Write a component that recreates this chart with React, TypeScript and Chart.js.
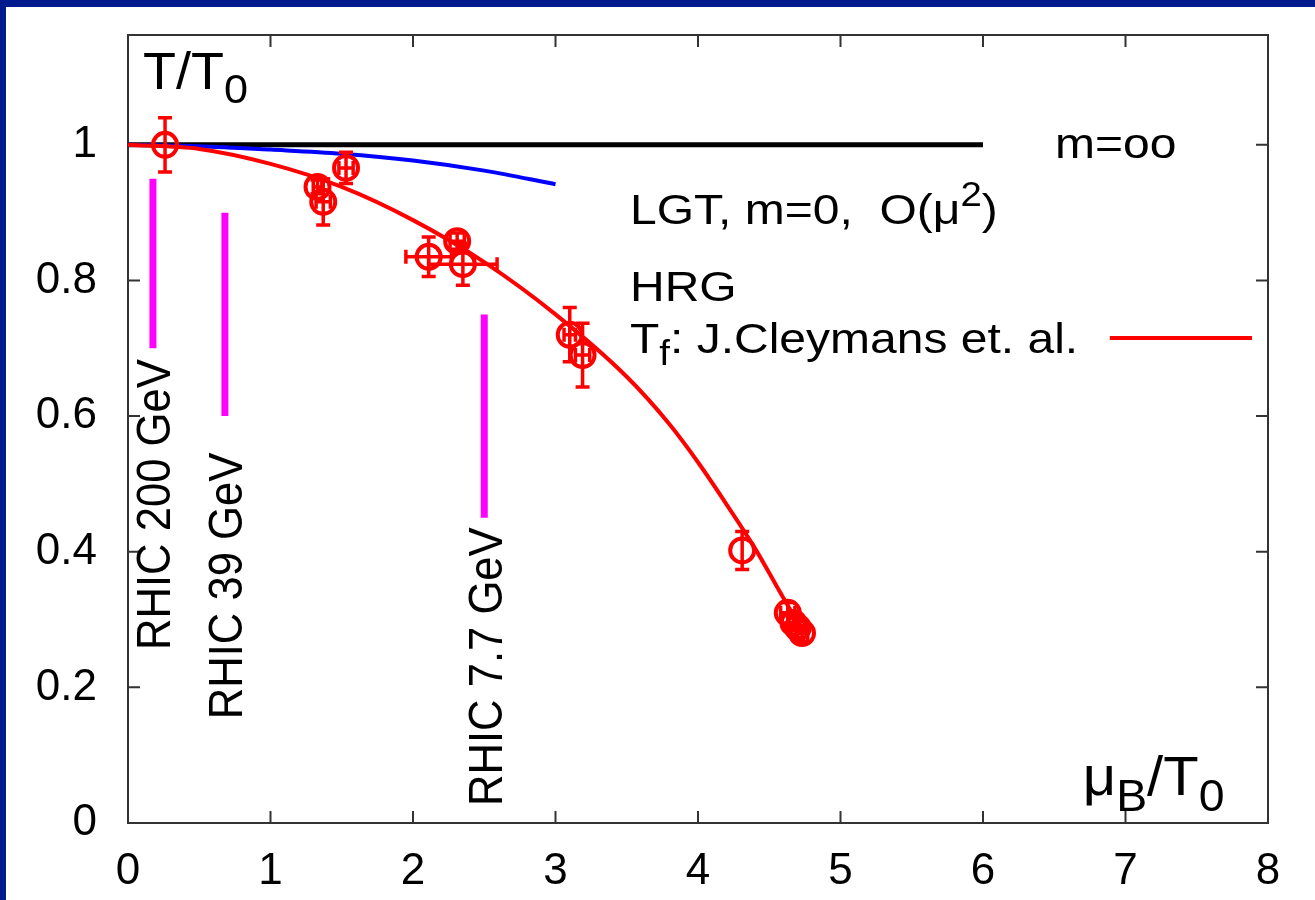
import React, { useEffect, useRef } from 'react';
import { Chart, registerables } from 'chart.js';

Chart.register(...registerables);

const FONT = '"Liberation Sans", Arial, Helvetica, sans-serif';

// Axis ticks
const xTicks = [0, 1, 2, 3, 4, 5, 6, 7, 8];
const xTickLabels = ['0', '1', '2', '3', '4', '5', '6', '7', '8'];
const yTicks = [0, 0.2, 0.4, 0.6, 0.8, 1];
const yTickLabels = ['0', '0.2', '0.4', '0.6', '0.8', '1'];
const X_MIN = 0;
const X_MAX = 8;
const Y_MIN = 0;
const Y_MAX = 1.162;

// Freeze-out data points (mu_B/T0, T/T0) with errors
const dataX = [0.26, 1.33, 1.37, 1.53, 2.11, 2.31, 2.35, 3.10, 3.19, 4.31, 4.63, 4.67, 4.70, 4.73];
const dataY = [1.0, 0.938, 0.916, 0.966, 0.835, 0.858, 0.824, 0.72, 0.69, 0.402, 0.31, 0.295, 0.288, 0.28];
const dataXErr = [0, 0.03, 0.05, 0.05, 0.16, 0.05, 0.24, 0.04, 0.05, 0, 0.05, 0.04, 0.05, 0.04];
const dataYErr = [0.04, 0.01, 0.034, 0.023, 0.029, 0.012, 0.031, 0.04, 0.047, 0.028, 0.015, 0.012, 0.015, 0.012];

// HRG freeze-out curve (J. Cleymans et al.)
const hrgX = [0, 0.5, 1.0, 1.5, 2.0, 2.5, 3.0, 3.5, 3.8, 4.0, 4.2, 4.4, 4.55, 4.7];
const hrgY = [1.0, 0.994, 0.972, 0.938, 0.889, 0.827, 0.75, 0.658, 0.588, 0.532, 0.47, 0.405, 0.35, 0.295];

// LGT, m=0, O(mu^2)
const lgtX = [0, 0.5, 1.0, 1.5, 2.0, 2.5, 3.0];
const lgtY = [1.0, 0.998, 0.993, 0.987, 0.977, 0.962, 0.942];

// m = infinity
const infX = [0, 6];
const infY = [1, 1];

// RHIC energy markers
const rhicX = [0.175, 0.68, 2.5];
const rhicTop = [0.95, 0.9, 0.75];
const rhicBottom = [0.7, 0.6, 0.45];
const rhicLabels = ['RHIC 200 GeV', 'RHIC 39 GeV', 'RHIC 7.7 GeV'];
const rhicLabelAnchorX = [0.295, 0.8, 2.625];
const rhicLabelAnchorY = [0.255, 0.153, 0.025];

type Seg = { t: string; sub?: boolean; sup?: boolean };
type Note = { segs: Seg[]; x: number; y: number; size: number; sy: number };

const notes: Note[] = [
  { segs: [{ t: 'T/T' }, { t: '0', sub: true }], x: 0.105, y: 1.083, size: 54, sy: 0.95 },
  { segs: [{ t: 'μ' }, { t: 'B', sub: true }, { t: '/T' }, { t: '0', sub: true }], x: 6.7, y: 0.041, size: 58, sy: 0.95 },
  { segs: [{ t: 'm=oo' }], x: 6.505, y: 0.981, size: 48, sy: 0.9 },
  { segs: [{ t: 'LGT, m=0,  O(μ' }, { t: '2', sup: true }, { t: ')' }], x: 3.523, y: 0.8835, size: 48, sy: 0.9 },
  { segs: [{ t: 'HRG' }], x: 3.523, y: 0.77, size: 48, sy: 0.9 },
  { segs: [{ t: 'T' }, { t: 'f', sub: true }, { t: ': J.Cleymans et. al.' }], x: 3.523, y: 0.693, size: 48, sy: 0.9 },
];
const legendLineX = [6.89, 7.888];
const legendLineY = 0.7153;

function drawRich(ctx: CanvasRenderingContext2D, segs: Seg[], x: number, y: number, size: number, sy: number) {
  ctx.save();
  ctx.translate(x, y);
  ctx.scale(1, sy);
  ctx.fillStyle = '#000';
  ctx.textBaseline = 'alphabetic';
  ctx.textAlign = 'left';
  let cx = 0;
  for (const s of segs) {
    const fs = s.sub || s.sup ? size * 0.8 : size;
    ctx.font = `${fs}px ${FONT}`;
    const dy = s.sub ? size * 0.28 : s.sup ? -size * 0.42 : 0;
    ctx.fillText(s.t, cx, dy);
    cx += ctx.measureText(s.t).width;
  }
  ctx.restore();
}

const framePlugin = {
  id: 'frame',
  beforeDatasetsDraw(chart: any) {
    const { ctx, chartArea: a, scales } = chart;
    const xs = scales.x;
    const ys = scales.y;
    ctx.save();
    ctx.strokeStyle = '#333';
    ctx.lineWidth = 2;
    ctx.strokeRect(a.left, a.top, a.right - a.left, a.bottom - a.top);
    const tl = 12;
    ctx.beginPath();
    for (const v of xTicks) {
      if (v === X_MIN || v === X_MAX) continue;
      const px = xs.getPixelForValue(v);
      ctx.moveTo(px, a.bottom);
      ctx.lineTo(px, a.bottom - tl);
      ctx.moveTo(px, a.top);
      ctx.lineTo(px, a.top + tl);
    }
    for (const v of yTicks) {
      if (v === Y_MIN) continue;
      const py = ys.getPixelForValue(v);
      ctx.moveTo(a.left, py);
      ctx.lineTo(a.left + tl, py);
      ctx.moveTo(a.right, py);
      ctx.lineTo(a.right - tl, py);
    }
    ctx.stroke();
    ctx.restore();
  },
  afterDatasetsDraw(chart: any) {
    const { ctx, scales } = chart;
    const xs = scales.x;
    const ys = scales.y;
    ctx.save();
    // error bars
    ctx.strokeStyle = '#ff0000';
    ctx.lineWidth = 3.5;
    const cap = 7;
    for (let i = 0; i < dataX.length; i++) {
      const px = xs.getPixelForValue(dataX[i]);
      const py = ys.getPixelForValue(dataY[i]);
      ctx.beginPath();
      if (dataYErr[i] > 0) {
        const y1 = ys.getPixelForValue(dataY[i] + dataYErr[i]);
        const y2 = ys.getPixelForValue(dataY[i] - dataYErr[i]);
        ctx.moveTo(px, y1);
        ctx.lineTo(px, y2);
        ctx.moveTo(px - cap, y1);
        ctx.lineTo(px + cap, y1);
        ctx.moveTo(px - cap, y2);
        ctx.lineTo(px + cap, y2);
      }
      if (dataXErr[i] > 0) {
        const x1 = xs.getPixelForValue(dataX[i] - dataXErr[i]);
        const x2 = xs.getPixelForValue(dataX[i] + dataXErr[i]);
        ctx.moveTo(x1, py);
        ctx.lineTo(x2, py);
        ctx.moveTo(x1, py - cap);
        ctx.lineTo(x1, py + cap);
        ctx.moveTo(x2, py - cap);
        ctx.lineTo(x2, py + cap);
      }
      ctx.stroke();
    }
    // legend key line
    ctx.strokeStyle = '#ff0000';
    ctx.lineWidth = 4;
    ctx.beginPath();
    ctx.moveTo(xs.getPixelForValue(legendLineX[0]), ys.getPixelForValue(legendLineY));
    ctx.lineTo(xs.getPixelForValue(legendLineX[1]), ys.getPixelForValue(legendLineY));
    ctx.stroke();
    // text notes
    for (const n of notes) {
      drawRich(ctx, n.segs, xs.getPixelForValue(n.x), ys.getPixelForValue(n.y), n.size, n.sy);
    }
    // rotated RHIC labels
    for (let i = 0; i < rhicLabels.length; i++) {
      ctx.save();
      ctx.translate(xs.getPixelForValue(rhicLabelAnchorX[i]), ys.getPixelForValue(rhicLabelAnchorY[i]));
      ctx.rotate(-Math.PI / 2);
      ctx.scale(0.89, 1);
      ctx.font = `49px ${FONT}`;
      ctx.fillStyle = '#000';
      ctx.textAlign = 'left';
      ctx.textBaseline = 'alphabetic';
      ctx.fillText(rhicLabels[i], 0, 0);
      ctx.restore();
    }
    ctx.restore();
  },
};

export default function App() {
  const ref = useRef<HTMLCanvasElement>(null);
  useEffect(() => {
    const lineDs = (xsArr: number[], ysArr: number[], color: string, width: number, order: number) => ({
      type: 'line' as const,
      data: xsArr.map((x, i) => ({ x, y: ysArr[i] })),
      borderColor: color,
      backgroundColor: color,
      borderWidth: width,
      pointRadius: 0,
      showLine: true,
      fill: false,
      cubicInterpolationMode: 'monotone' as const,
      order,
    });
    const datasets: any[] = [
      {
        type: 'scatter',
        data: dataX.map((x, i) => ({ x, y: dataY[i] })),
        pointStyle: 'circle',
        pointRadius: 12,
        pointBorderWidth: 4,
        pointBorderColor: '#ff0000',
        pointBackgroundColor: 'rgba(0,0,0,0)',
        showLine: false,
        order: 0,
      },
      lineDs(hrgX, hrgY, '#ff0000', 4, 1),
      lineDs(lgtX, lgtY, '#0000ff', 4, 2),
      lineDs(infX, infY, '#000000', 5, 3),
    ];
    rhicX.forEach((x, i) => {
      datasets.push({
        type: 'line',
        data: [{ x, y: rhicBottom[i] }, { x, y: rhicTop[i] }],
        borderColor: '#ff00ff',
        borderWidth: 7,
        pointRadius: 0,
        showLine: true,
        fill: false,
        borderCapStyle: 'butt',
        order: 4 + i,
      });
    });
    const chart = new Chart(ref.current as HTMLCanvasElement, {
      type: 'scatter',
      data: { datasets },
      options: {
        animation: false,
        responsive: false,
        maintainAspectRatio: false,
        devicePixelRatio: 1,
        layout: { padding: { top: 28, right: 47, left: 0, bottom: 0 } },
        plugins: { legend: { display: false }, tooltip: { enabled: false } },
        scales: {
          x: {
            type: 'linear',
            min: X_MIN,
            max: X_MAX,
            afterBuildTicks: (s: any) => {
              s.ticks = xTicks.map((v) => ({ value: v }));
            },
            afterFit: (s: any) => {
              s.height = 77;
              s.paddingLeft = 0;
              s.paddingRight = 0;
            },
            ticks: {
              font: { size: 44, family: FONT },
              color: '#000',
              padding: 22,
              maxRotation: 0,
              autoSkip: false,
              callback: (_v: any, i: number) => xTickLabels[i],
            },
            grid: { display: false, drawTicks: false },
            border: { display: false },
          },
          y: {
            type: 'linear',
            min: Y_MIN,
            max: Y_MAX,
            afterBuildTicks: (s: any) => {
              s.ticks = yTicks.map((v) => ({ value: v }));
            },
            afterFit: (s: any) => {
              s.width = 122;
              s.paddingTop = 0;
              s.paddingBottom = 0;
            },
            ticks: {
              font: { size: 44, family: FONT },
              color: '#000',
              padding: 31,
              autoSkip: false,
              callback: (_v: any, i: number) => yTickLabels[i],
            },
            grid: { display: false, drawTicks: false },
            border: { display: false },
          },
        },
      },
      plugins: [framePlugin],
    });
    return () => chart.destroy();
  }, []);
  return (
    <div style={{ position: 'fixed', left: 0, top: 0, width: 1315, height: 900, background: '#00198c', overflow: 'hidden' }}>
      <div style={{ position: 'absolute', left: 6, top: 7, width: 1309, height: 893, background: '#ffffff' }}>
        <canvas ref={ref} width={1309} height={893} style={{ display: 'block', width: 1309, height: 893 }} />
      </div>
    </div>
  );
}
